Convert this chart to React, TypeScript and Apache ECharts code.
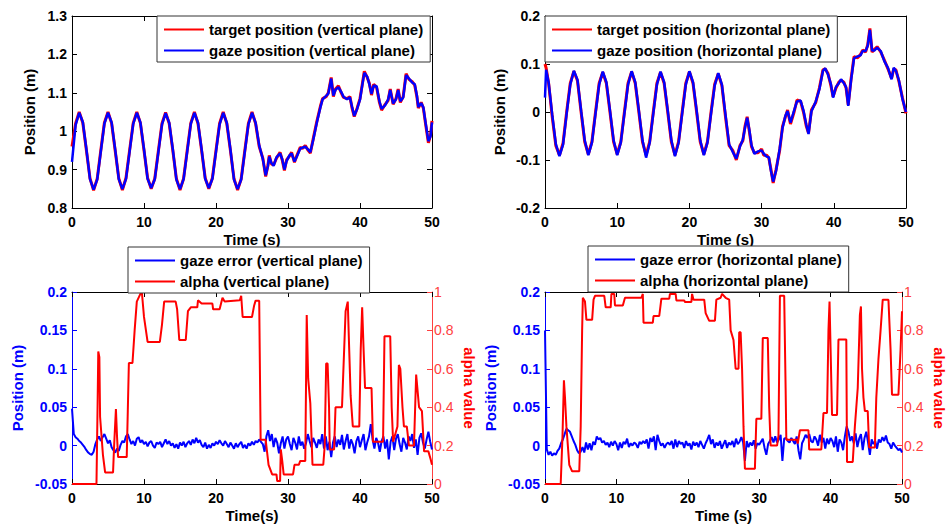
import { useEffect, useRef } from "react";
import * as echarts from "echarts";

const FONT = "'Liberation Sans', Arial, Helvetica, sans-serif";
const RED = "#ff0000";
const BLUE = "#0000ff";
const LIGHT_RED = "#ff4040";

// ---- Vertical plane: target and gaze position (m) ----
const vertTime = [
  0, 0.5, 1, 1.5, 2, 2.5, 3, 3.5, 4, 4.5, 5, 5.5, 6, 6.5, 7, 7.5, 8, 8.5, 9, 9.5,
  10, 10.5, 11, 11.5, 12, 12.5, 13, 13.5, 14, 14.5, 15, 15.5, 16, 16.5, 17, 17.5,
  18, 18.5, 19, 19.5, 20, 20.5, 21, 21.5, 22, 22.5, 23, 23.5, 24, 24.5, 25, 25.5,
  26, 26.5, 26.9, 27.2, 27.4, 27.7, 28, 28.4, 28.9, 29.2, 29.5, 29.8, 30.2, 30.5,
  30.9, 31.2, 31.7, 32, 32.4, 32.8, 33.1, 33.5, 34, 34.5, 34.8, 35.3, 35.6, 36,
  36.3, 36.6, 37, 37.4, 37.7, 38.2, 38.6, 38.9, 39.2, 39.6, 40, 40.3, 40.6, 41,
  41.3, 41.6, 41.9, 42.3, 42.7, 43, 43.5, 43.9, 44.2, 44.6, 45, 45.3, 45.6, 46,
  46.4, 46.8, 47.3, 47.6, 47.9, 48.1, 48.5, 48.8, 49.1, 49.5, 49.8, 50,
];
const vertTarget = [
  0.96, 1.02, 1.05, 1.022, 0.95, 0.877, 0.846, 0.876, 0.95, 1.022, 1.05, 1.021,
  0.949, 0.877, 0.847, 0.878, 0.95, 1.021, 1.05, 1.021, 0.95, 0.878, 0.85, 0.877,
  0.949, 1.02, 1.049, 1.02, 0.95, 0.876, 0.847, 0.877, 0.95, 1.021, 1.05, 1.02,
  0.95, 0.878, 0.85, 0.878, 0.95, 1.02, 1.05, 1.02, 0.95, 0.876, 0.847, 0.876,
  0.949, 1.02, 1.05, 1.02, 0.96, 0.93, 0.882, 0.91, 0.937, 0.915, 0.912, 0.93,
  0.945, 0.925, 0.898, 0.925, 0.935, 0.945, 0.919, 0.935, 0.958, 0.955, 0.963,
  0.95, 0.943, 0.98, 1.025, 1.065, 1.085, 1.09, 1.1, 1.14, 1.09, 1.11, 1.118, 1.1,
  1.088, 1.085, 1.09, 1.06, 1.038, 1.06, 1.085, 1.12, 1.156, 1.14, 1.125, 1.094,
  1.122, 1.115, 1.075, 1.055, 1.07, 1.08, 1.11, 1.07, 1.085, 1.11, 1.075, 1.09,
  1.15, 1.135, 1.128, 1.12, 1.09, 1.06, 1.075, 1.06, 1.02, 0.97, 0.99, 1.027,
];
const vertGaze = [
  0.92, 1.016, 1.048, 1.024, 0.953, 0.875, 0.848, 0.874, 0.947, 1.02, 1.048,
  1.023, 0.952, 0.875, 0.849, 0.876, 0.947, 1.019, 1.048, 1.023, 0.953, 0.876,
  0.852, 0.875, 0.946, 1.018, 1.047, 1.022, 0.953, 0.874, 0.849, 0.875, 0.947,
  1.019, 1.048, 1.022, 0.953, 0.876, 0.852, 0.876, 0.947, 1.018, 1.048, 1.022,
  0.953, 0.874, 0.849, 0.874, 0.946, 1.018, 1.048, 1.022, 0.963, 0.928, 0.885,
  0.908, 0.934, 0.917, 0.91, 0.932, 0.942, 0.927, 0.9, 0.922, 0.937, 0.942,
  0.921, 0.933, 0.955, 0.957, 0.96, 0.952, 0.945, 0.977, 1.022, 1.062, 1.083,
  1.092, 1.098, 1.137, 1.093, 1.108, 1.115, 1.102, 1.09, 1.083, 1.088, 1.063,
  1.04, 1.058, 1.082, 1.118, 1.152, 1.142, 1.122, 1.097, 1.119, 1.117, 1.078,
  1.058, 1.068, 1.082, 1.107, 1.072, 1.083, 1.107, 1.078, 1.088, 1.146, 1.137,
  1.126, 1.122, 1.093, 1.063, 1.073, 1.062, 1.023, 0.974, 0.987, 1.023,
];

// ---- Horizontal plane: target and gaze position (m) ----
const horzTime = [
  0, 0.15, 0.5, 1, 1.5, 2, 2.5, 3, 3.5, 4, 4.5, 5, 5.5, 6, 6.5, 7, 7.5, 8, 8.5, 9,
  9.5, 10, 10.5, 11, 11.5, 12, 12.5, 13, 13.5, 14, 14.5, 15, 15.5, 16, 16.5, 17,
  17.5, 18, 18.5, 19, 19.5, 20, 20.5, 21, 21.5, 22, 22.5, 23, 23.5, 24, 24.5, 25,
  25.5, 26, 26.5, 27, 27.4, 27.7, 28, 28.3, 28.6, 29, 29.5, 30, 30.3, 30.7, 31,
  31.3, 31.6, 32, 32.5, 32.9, 33.3, 33.6, 34, 34.5, 34.9, 35.4, 35.8, 36.2, 36.5,
  36.9, 37.5, 38, 38.5, 38.8, 39.2, 39.6, 39.9, 40.3, 40.7, 41, 41.4, 41.7, 42,
  42.4, 42.8, 43.3, 43.7, 44, 44.4, 44.7, 45, 45.3, 45.6, 46, 46.5, 47, 47.5, 48,
  48.3, 48.6, 49, 49.5, 50,
];
const horzTarget = [
  0.1, 0.092, 0.06, -0.01, -0.07, -0.09, -0.065, 0.0, 0.06, 0.085, 0.065, 0.0,
  -0.062, -0.088, -0.062, 0.0, 0.06, 0.083, 0.06, 0.0, -0.062, -0.088, -0.062,
  0.0, 0.06, 0.084, 0.06, 0.0, -0.062, -0.09, -0.062, 0.0, 0.06, 0.083, 0.06, 0.0,
  -0.062, -0.09, -0.062, 0.0, 0.06, 0.084, 0.06, 0.0, -0.062, -0.088, -0.062, 0.0,
  0.058, 0.08, 0.055, -0.01, -0.07, -0.08, -0.1, -0.07, -0.06, -0.03, -0.01,
  -0.04, -0.072, -0.085, -0.085, -0.077, -0.09, -0.09, -0.096, -0.12, -0.148,
  -0.12, -0.08, -0.03, -0.01, 0.004, -0.025, 0.0, 0.025, 0.022, 0.0, -0.03,
  -0.044, 0.004, 0.02, 0.05, 0.088, 0.09, 0.08, 0.055, 0.032, 0.05, 0.062, 0.066,
  0.062, 0.05, 0.015, 0.07, 0.115, 0.113, 0.12, 0.129, 0.125, 0.14, 0.174, 0.125,
  0.13, 0.136, 0.125, 0.108, 0.09, 0.07, 0.09, 0.088, 0.065, 0.03, -0.003,
];
const horzGaze = [
  0.03, 0.088, 0.062, -0.006, -0.067, -0.092, -0.068, -0.003, 0.057, 0.086,
  0.067, 0.003, -0.059, -0.09, -0.064, -0.003, 0.057, 0.084, 0.062, 0.003,
  -0.059, -0.09, -0.064, -0.003, 0.057, 0.085, 0.062, 0.003, -0.059, -0.095,
  -0.064, -0.003, 0.057, 0.084, 0.062, 0.003, -0.059, -0.092, -0.064, -0.003,
  0.057, 0.085, 0.062, 0.003, -0.059, -0.09, -0.064, -0.003, 0.055, 0.081, 0.057,
  -0.006, -0.067, -0.083, -0.097, -0.072, -0.058, -0.033, -0.012, -0.037,
  -0.069, -0.087, -0.082, -0.08, -0.087, -0.093, -0.094, -0.123, -0.145, -0.123,
  -0.077, -0.033, -0.008, 0.002, -0.022, 0.003, 0.022, 0.024, 0.003, -0.027,
  -0.046, 0.001, 0.022, 0.047, 0.086, 0.091, 0.078, 0.058, 0.03, 0.052, 0.06,
  0.068, 0.06, 0.052, 0.013, 0.067, 0.112, 0.116, 0.118, 0.127, 0.127, 0.138,
  0.171, 0.128, 0.128, 0.134, 0.127, 0.106, 0.092, 0.068, 0.092, 0.086, 0.067,
  0.028, 0.0,
];

// ---- Gaze error (m), sampled every 0.25 s from 0 to 50 s ----
const ERR_STEP = 0.25;
const errVert = [
  0.048, 0.015, 0.011, 0.009, 0.006, 0.004, 0.001, -0.002, -0.006,
  -0.009, -0.011, -0.012, -0.008, 0.002, 0.008, 0.012, 0.006,
  0.011, 0.015, 0.009, 0.003, 0.007, -0.002, -0.006, -0.009,
  -0.004, -0.007, 0.001, 0.006, 0.004, 0.012, 0.015, 0.008,
  0.002, 0.006, 0.0, 0.009, 0.011, 0.004, 0.007, 0.002,
  0.005, -0.001, 0.004, 0.006, 0.0, -0.003, 0.004, 0.002,
  0.005, -0.002, 0.003, 0.008, 0.002, 0.006, 0.0, 0.003,
  -0.003, 0.002, -0.004, 0.004, 0.0, 0.005, -0.002, 0.003,
  0.006, 0.001, 0.008, 0.003, 0.01, 0.004, 0.007, 0.001,
  -0.002, 0.004, -0.004, 0.001, -0.003, 0.003, 0.0, 0.005,
  0.002, 0.007, 0.003, 0.0, 0.006, 0.002, -0.002, 0.004,
  0.0, -0.004, 0.003, -0.002, 0.002, 0.005, -0.003, 0.001,
  -0.004, 0.003, 0.0, 0.005, 0.001, 0.006, 0.004, 0.008,
  0.005, 0.002, -0.008, 0.012, 0.02, 0.006, 0.015, -0.002,
  0.01, 0.004, -0.01, 0.003, 0.012, -0.004, 0.008, 0.012,
  0.002, -0.006, 0.01, 0.004, -0.005, 0.012, 0.0, 0.005,
  -0.004, 0.003, 0.015, 0.006, -0.002, 0.01, 0.004, -0.003,
  0.008, 0.002, 0.015, -0.004, 0.012, -0.006, 0.005, -0.015,
  0.004, 0.012, -0.002, 0.008, 0.001, 0.014, -0.005, 0.006,
  0.015, -0.004, 0.008, 0.002, -0.01, 0.006, 0.012, -0.002,
  0.007, 0.015, -0.006, 0.004, 0.012, 0.028, 0.008, -0.004,
  0.01, 0.004, -0.008, 0.006, 0.012, -0.004, 0.008, -0.018,
  0.005, 0.012, -0.006, 0.009, 0.015, 0.002, -0.008, 0.01,
  0.004, -0.005, 0.012, 0.006, 0.015, -0.003, 0.008, -0.012,
  0.01, 0.016, 0.004, -0.004, 0.008, 0.018, 0.005, -0.005,
];
const errHorz = [
  0.15, -0.005, -0.012, -0.008, -0.013, -0.01, -0.012, -0.007, -0.004,
  0.003, 0.008, 0.015, 0.022, 0.02, 0.018, 0.012, 0.006,
  0.001, -0.006, -0.01, -0.008, -0.002, -0.009, 0.004, -0.005,
  0.003, -0.006, 0.005, 0.001, 0.012, 0.008, 0.01, 0.004,
  0.006, 0.001, 0.004, -0.002, 0.005, 0.0, 0.006, 0.002,
  -0.006, 0.004, -0.003, 0.005, 0.002, 0.009, -0.002, 0.003,
  0.0, 0.004, 0.002, -0.003, 0.005, 0.002, 0.006, 0.003,
  0.008, -0.004, 0.01, 0.005, 0.012, -0.006, 0.014, 0.006,
  0.0, 0.003, -0.003, 0.002, 0.004, 0.001, 0.006, -0.004,
  0.008, -0.002, 0.006, 0.002, 0.004, -0.003, 0.006, 0.0,
  0.003, -0.005, 0.005, 0.0, 0.004, -0.002, 0.006, 0.001,
  -0.004, 0.003, 0.008, 0.014, 0.002, 0.008, -0.003, 0.004,
  0.0, 0.006, -0.004, 0.002, 0.007, -0.003, 0.004, 0.001,
  0.006, -0.002, 0.009, 0.002, 0.005, 0.011, 0.004, -0.02,
  0.006, -0.002, 0.004, 0.0, 0.007, -0.004, 0.003, 0.001,
  0.005, 0.009, -0.003, -0.012, 0.002, 0.006, 0.011, 0.004,
  0.012, 0.004, 0.008, 0.014, -0.02, 0.009, 0.01, 0.006,
  0.004, 0.01, 0.006, 0.002, 0.012, -0.006, -0.018, 0.003,
  0.008, 0.014, 0.01, 0.015, 0.006, 0.004, 0.012, 0.008,
  0.0, 0.014, 0.004, 0.01, -0.004, 0.009, 0.002, 0.01,
  0.006, -0.002, 0.012, -0.008, 0.008, 0.004, -0.006, 0.012,
  0.025, 0.018, 0.006, 0.012, 0.003, 0.016, -0.002, 0.009,
  0.015, -0.006, 0.01, 0.018, 0.004, -0.012, 0.008, 0.002,
  0.006, -0.004, 0.008, 0.004, 0.011, 0.006, 0.013, 0.004,
  0.002, -0.004, 0.004, 0.0, -0.003, -0.006, -0.004, -0.009,
];

// ---- Alpha value (0..1) ----
const alphaVertTime = [
  0, 3.4, 3.55, 3.65, 3.8, 3.9, 4.3, 4.6, 5.7, 5.85, 6.1, 6.25, 6.4, 7.6, 7.75,
  7.9, 8.4, 8.7, 9.0, 9.5, 9.7, 10.0, 10.5, 12.2, 12.5, 12.8, 14.4, 14.6, 14.9,
  15.8, 16.1, 16.5, 17.4, 17.5, 18.0, 19.5, 19.6, 20.5, 20.7, 20.9, 21.2, 23.3,
  23.5, 23.7, 25.0, 25.3, 25.5, 26.0, 26.2, 26.9, 27.3, 27.8, 28.4, 28.5, 28.9,
  29.0, 29.2, 29.4, 30.7, 30.9, 31.5, 31.7, 32.4, 32.6, 32.8, 33.1, 33.4, 34.9,
  35.1, 35.3, 35.5, 35.7, 35.8, 36.4, 36.6, 37.5, 38.0, 38.3, 38.5, 38.7, 39.0,
  39.9, 40.1, 40.3, 40.5, 40.7, 41.6, 41.8, 43.2, 43.4, 44.2, 44.4, 44.6, 45.2,
  45.4, 45.6, 45.9, 46.1, 46.5, 46.8, 47.5, 47.8, 48.2, 48.6, 48.9, 49.5, 49.8,
  50.0,
];
const alphaVert = [
  0, 0, 0.4, 0.69, 0.66, 0.35, 0.15, 0.06, 0.06, 0.2, 0.39, 0.25, 0.14, 0.14,
  0.38, 0.63, 0.63, 0.8, 0.95, 0.99, 1.0, 0.87, 0.74, 0.74, 0.83, 0.95, 0.95,
  0.91, 0.75, 0.75, 0.9, 0.92, 0.92, 0.957, 0.94, 0.94, 0.91, 0.91, 0.94, 0.97,
  0.95, 0.957, 0.98, 0.87, 0.87, 0.93, 0.955, 0.955, 0.23, 0.23, 0.1, 0.05, 0.05,
  0.015, 0.015, 0.18, 0.12, 0.05, 0.05, 0.1, 0.1, 0.12, 0.12, 0.88, 0.55, 0.42,
  0.1, 0.1, 0.2, 0.627, 0.627, 0.4, 0.18, 0.18, 0.4, 0.4, 0.9, 0.95, 0.7, 0.46,
  0.3, 0.3, 0.7, 0.92, 0.7, 0.5, 0.5, 0.22, 0.22, 0.77, 0.77, 0.4, 0.22, 0.3,
  0.62, 0.6, 0.4, 0.3, 0.3, 0.2, 0.2, 0.57, 0.4, 0.38, 0.17, 0.17, 0.13, 0.1,
];
const alphaHorzTime = [
  0, 2.2, 2.45, 2.65, 2.8, 3.0, 3.4, 3.8, 4.8, 5.0, 5.2, 5.3, 5.6, 5.8, 6.6, 6.8,
  7.0, 8.3, 8.5, 9.2, 9.3, 9.7, 9.8, 10.9, 11.2, 13.5, 13.7, 13.8, 15.1, 15.2,
  16.0, 16.3, 17.4, 17.5, 18.3, 18.4, 19.5, 19.6, 20.5, 20.6, 20.8, 22.3, 22.5,
  23.0, 23.8, 24.0, 24.6, 24.8, 25.3, 25.8, 26.0, 26.4, 26.7, 27.1, 27.2, 27.4,
  27.6, 27.8, 28.0, 29.4, 29.6, 30.3, 30.5, 31.2, 31.4, 31.6, 32.5, 32.7, 32.9,
  33.5, 33.7, 33.8, 35.3, 35.4, 35.7, 36.9, 37.0, 38.7, 39.0, 39.5, 39.7, 39.85,
  40.0, 40.2, 40.9, 41.1, 42.2, 42.3, 43.1, 43.4, 43.8, 44.1, 44.25, 44.4, 44.6,
  44.8, 45.2, 45.4, 46.2, 46.4, 46.7, 47.0, 47.3, 48.1, 48.4, 48.6, 49.5, 49.8,
  50.0,
];
const alphaHorz = [
  0, 0, 0.25, 0.54, 0.45, 0.3, 0.1, 0.066, 0.066, 0.3, 0.8, 0.97, 0.95, 0.855,
  0.855, 0.96, 0.98, 0.98, 0.92, 0.92, 0.99, 0.99, 0.93, 0.93, 0.97, 0.97, 0.99,
  0.84, 0.84, 0.875, 0.875, 0.965, 0.965, 0.99, 0.99, 0.956, 0.956, 0.948, 0.948,
  0.99, 0.96, 0.96, 0.89, 0.85, 0.85, 0.96, 0.97, 0.99, 0.97, 0.96, 0.8, 0.75,
  0.6, 0.6, 0.79, 0.79, 0.6, 0.3, 0.08, 0.08, 0.34, 0.34, 0.76, 0.76, 0.4, 0.2,
  0.2, 0.25, 0.98, 0.98, 0.5, 0.23, 0.23, 0.21, 0.28, 0.28, 0.18, 0.18, 0.37,
  0.37, 0.8, 0.95, 0.7, 0.36, 0.36, 0.753, 0.753, 0.115, 0.115, 0.3, 0.5, 0.88,
  0.925, 0.6, 0.45, 0.38, 0.38, 0.19, 0.19, 0.45, 0.65, 0.8, 0.96, 0.96, 0.7,
  0.465, 0.465, 0.7, 0.9,
];

const TIME_TICKS = { min: 0, max: 50, interval: 10 };

const pair = (xs: number[], ys: number[]) => xs.map((x, i) => [x, ys[i]]);
const sampled = (ys: number[]) => ys.map((y, i) => [i * ERR_STEP, y]);
const tidy = (v: number) => String(Math.round(v * 1000) / 1000);

const labelFont = { fontFamily: FONT, fontSize: 14, fontWeight: "bold" as const };
const nameFont = { fontFamily: FONT, fontSize: 15, fontWeight: "bold" as const };

function timeAxis(gridIndex: number, name: string) {
  return {
    type: "value",
    gridIndex,
    position: "bottom",
    ...TIME_TICKS,
    name,
    nameLocation: "middle",
    nameGap: 24,
    nameTextStyle: { ...nameFont, color: "#000" },
    axisLine: { show: true, onZero: false, lineStyle: { color: "#000", width: 1 } },
    axisTick: { show: true, inside: true, length: 5, lineStyle: { color: "#000" } },
    axisLabel: { ...labelFont, color: "#000", margin: 7 },
    splitLine: { show: false },
  };
}

function topMirror(gridIndex: number) {
  return {
    type: "value",
    gridIndex,
    position: "top",
    ...TIME_TICKS,
    axisLine: { show: true, onZero: false, lineStyle: { color: "#000", width: 1 } },
    axisTick: { show: true, inside: true, length: 5, lineStyle: { color: "#000" } },
    axisLabel: { show: false },
    splitLine: { show: false },
  };
}

function leftAxis(
  gridIndex: number,
  min: number,
  max: number,
  interval: number,
  color: string,
  nameGap: number
) {
  return {
    type: "value",
    gridIndex,
    position: "left",
    min,
    max,
    interval,
    name: "Position (m)",
    nameLocation: "middle",
    nameGap,
    nameTextStyle: { ...nameFont, color },
    axisLine: { show: true, onZero: false, lineStyle: { color, width: 1 } },
    axisTick: { show: true, inside: true, length: 5, lineStyle: { color } },
    axisLabel: { ...labelFont, color, margin: 5, formatter: tidy },
    splitLine: { show: false },
  };
}

function rightMirror(gridIndex: number, min: number, max: number, interval: number) {
  return {
    type: "value",
    gridIndex,
    position: "right",
    min,
    max,
    interval,
    axisLine: { show: true, onZero: false, lineStyle: { color: "#000", width: 1 } },
    axisTick: { show: true, inside: true, length: 5, lineStyle: { color: "#000" } },
    axisLabel: { show: false },
    splitLine: { show: false },
  };
}

function alphaAxis(gridIndex: number) {
  return {
    type: "value",
    gridIndex,
    position: "right",
    min: 0,
    max: 1,
    interval: 0.2,
    name: "alpha value",
    nameLocation: "middle",
    nameRotate: -90,
    nameGap: 30,
    nameTextStyle: { ...nameFont, color: RED },
    axisLine: { show: true, onZero: false, lineStyle: { color: LIGHT_RED, width: 1 } },
    axisTick: { show: true, inside: true, length: 5, lineStyle: { color: LIGHT_RED } },
    axisLabel: {
      fontFamily: FONT,
      fontSize: 14,
      fontWeight: "normal",
      color: LIGHT_RED,
      margin: 2,
      formatter: tidy,
    },
    splitLine: { show: false },
  };
}

function lineSeries(
  name: string,
  data: number[][],
  color: string,
  width: number,
  xAxisIndex: number,
  yAxisIndex: number,
  z: number
) {
  return {
    type: "line",
    name,
    data,
    xAxisIndex,
    yAxisIndex,
    symbol: "none",
    showSymbol: false,
    z,
    lineStyle: { color, width },
    itemStyle: { color },
    emphasis: { disabled: true },
  };
}

function legendBox(names: string[], left: number, top: number) {
  return {
    data: names,
    orient: "vertical",
    left,
    top,
    icon: "rect",
    itemWidth: 40,
    itemHeight: 2,
    itemGap: 6,
    padding: [6, 7, 4, 7],
    backgroundColor: "#fff",
    borderColor: "#333",
    borderWidth: 1,
    borderRadius: 0,
    selectedMode: false,
    z: 10,
    textStyle: { fontFamily: FONT, fontSize: 15, fontWeight: "bold", color: "#000" },
  };
}

const N = {
  tv: "target position (vertical plane)",
  gv: "gaze position (vertical plane)",
  th: "target position (horizontal plane)",
  gh: "gaze position (horizontal plane)",
  ev: "gaze error (vertical plane)",
  av: "alpha (vertical plane)",
  eh: "gaze error (horizontal plane)",
  ah: "alpha (horizontal plane)",
};

export default function App() {
  const ref = useRef<HTMLDivElement>(null);

  useEffect(() => {
    if (!ref.current) return;
    const chart = echarts.init(ref.current, undefined, { renderer: "svg" });
    chart.setOption({
      animation: false,
      backgroundColor: "#fff",
      grid: [
        { left: 72, top: 16, width: 360, height: 192 },
        { left: 545, top: 16, width: 361, height: 192 },
        { left: 72, top: 292, width: 360, height: 192 },
        { left: 545, top: 292, width: 360, height: 192 },
      ],
      xAxis: [
        timeAxis(0, "Time (s)"),
        topMirror(0),
        timeAxis(1, "Time (s)"),
        topMirror(1),
        timeAxis(2, "Time(s)"),
        topMirror(2),
        timeAxis(3, "Time (s)"),
        topMirror(3),
      ],
      yAxis: [
        leftAxis(0, 0.8, 1.3, 0.1, "#000", 35),
        rightMirror(0, 0.8, 1.3, 0.1),
        leftAxis(1, -0.2, 0.2, 0.1, "#000", 38),
        rightMirror(1, -0.2, 0.2, 0.1),
        leftAxis(2, -0.05, 0.2, 0.05, BLUE, 47),
        alphaAxis(2),
        leftAxis(3, -0.05, 0.2, 0.05, BLUE, 47),
        alphaAxis(3),
      ],
      legend: [
        legendBox([N.tv, N.gv], 157, 16),
        legendBox([N.th, N.gh], 545, 16),
        legendBox([N.ev, N.av], 128, 247),
        legendBox([N.eh, N.ah], 588, 246),
      ],
      series: [
        lineSeries(N.tv, pair(vertTime, vertTarget), RED, 3, 0, 0, 2),
        lineSeries(N.gv, pair(vertTime, vertGaze), BLUE, 2.5, 0, 0, 3),
        lineSeries(N.th, pair(horzTime, horzTarget), RED, 3, 2, 2, 2),
        lineSeries(N.gh, pair(horzTime, horzGaze), BLUE, 2.5, 2, 2, 3),
        lineSeries(N.ev, sampled(errVert), BLUE, 2, 4, 4, 2),
        lineSeries(N.av, pair(alphaVertTime, alphaVert), RED, 2, 4, 5, 3),
        lineSeries(N.eh, sampled(errHorz), BLUE, 2, 6, 6, 2),
        lineSeries(N.ah, pair(alphaHorzTime, alphaHorz), RED, 2, 6, 7, 3),
      ],
    });
    return () => chart.dispose();
  }, []);

  return (
    <div
      ref={ref}
      style={{ position: "absolute", left: 0, top: 0, width: 948, height: 527, background: "#fff" }}
    />
  );
}
